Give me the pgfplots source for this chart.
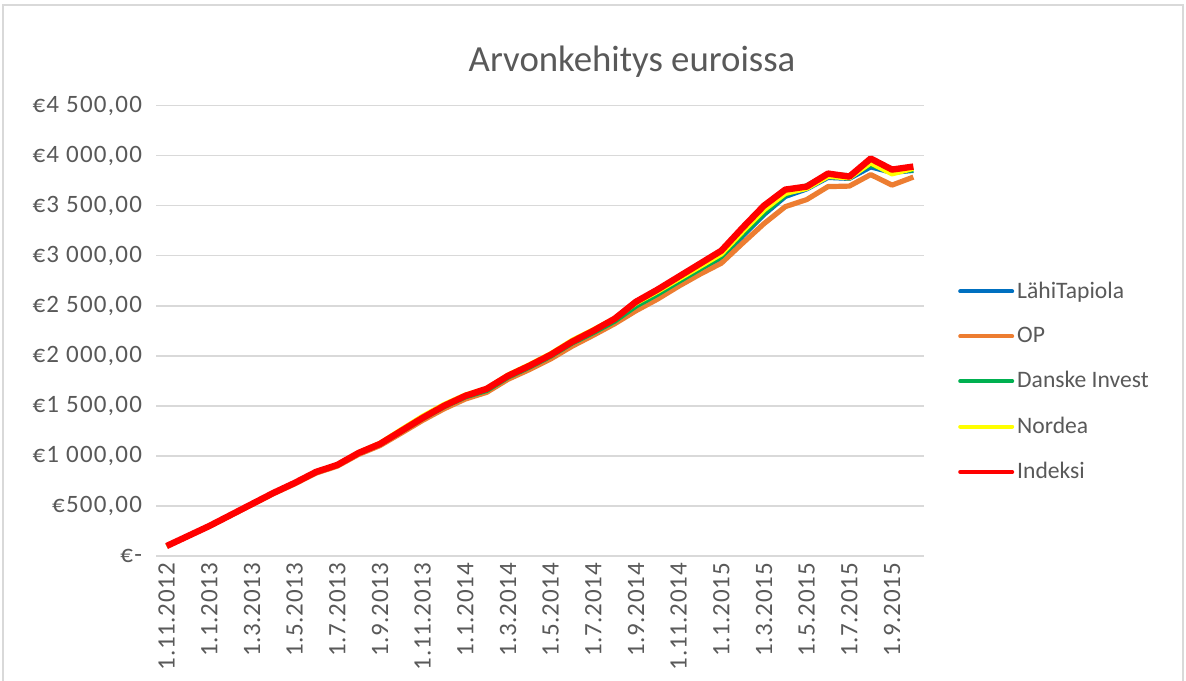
\documentclass[border=0pt]{standalone}
\usepackage{pgfplots}
\pgfplotsset{compat=1.18}
\usepackage{pgfplotstable}
\usepackage{fontspec}
\setmainfont{Carlito}
\definecolor{txt}{HTML}{595959}
\definecolor{gridc}{HTML}{D9D9D9}
\definecolor{cblue}{HTML}{0070C0}
\definecolor{corange}{HTML}{ED7D31}
\definecolor{cgreen}{HTML}{00B050}
\definecolor{cyellow}{HTML}{FFFF00}
\definecolor{cred}{HTML}{FF0000}
\pgfplotstableread{
x ix no di lt op
0 100 100 100 100 100
1 200 200 200 200 198
2 300 302 300 300 297
3 410 412 408 408 405
4 520 522 518 517 513
5 630 632 627 626 622
6 730 733 727 726 720
7 840 843 836 835 828
8 910 913 906 905 898
9 1030 1035 1025 1024 1015
10 1120 1128 1115 1113 1103
11 1250 1265 1243 1240 1228
12 1380 1398 1372 1370 1355
13 1500 1515 1490 1488 1470
14 1600 1610 1588 1585 1568
15 1670 1675 1652 1650 1635
16 1800 1810 1785 1782 1765
17 1900 1912 1885 1880 1862
18 2010 2022 1995 1990 1968
19 2140 2155 2125 2118 2095
20 2250 2262 2230 2225 2205
21 2370 2375 2345 2338 2320
22 2540 2525 2495 2480 2450
23 2660 2640 2612 2595 2565
24 2790 2765 2740 2725 2695
25 2920 2890 2865 2855 2815
26 3050 3015 2990 2975 2925
27 3280 3240 3210 3195 3125
28 3500 3455 3425 3410 3320
29 3660 3620 3605 3590 3490
30 3690 3670 3700 3665 3560
31 3820 3790 3815 3780 3690
32 3790 3775 3800 3770 3695
33 3970 3925 3905 3885 3810
34 3860 3815 3845 3830 3705
35 3890 3870 3855 3850 3785
}\data
\begin{document}
\begin{tikzpicture}
\useasboundingbox (0,0) rectangle (593pt,-340pt);
\draw[color=gridc, line width=0.75pt] (1.5pt,-2.5pt) rectangle (591.5pt,-345pt);
\node[text=txt, font=\fontsize{18.4}{22}\selectfont] at (316pt,-31pt) {Arvonkehitys euroissa};
\begin{axis}[
  at={(78pt,-278pt)}, anchor=south west,
  scale only axis, width=384pt, height=225.25pt,
  xmin=-0.5, xmax=35.5, ymin=0, ymax=4500,
  axis line style={draw=none},
  major tick length=0pt,
  ymajorgrids, grid style={color=gridc, line width=0.8pt},
  ytick={0,500,...,4500},
  yticklabels={€-, €500{,}00, €1 000{,}00, €1 500{,}00, €2 000{,}00, €2 500{,}00, €3 000{,}00, €3 500{,}00, €4 000{,}00, €4 500{,}00},
  xtick={0,2,...,34},
  xticklabels={1.11.2012,1.1.2013,1.3.2013,1.5.2013,1.7.2013,1.9.2013,1.11.2013,1.1.2014,1.3.2014,1.5.2014,1.7.2014,1.9.2014,1.11.2014,1.1.2015,1.3.2015,1.5.2015,1.7.2015,1.9.2015},
  tick label style={text=txt},
  xticklabel style={rotate=90, anchor=east, font=\fontsize{12.5}{14}\selectfont\addfontfeatures{LetterSpace=3}},
  yticklabel style={anchor=east, xshift=-3.5pt, font=\fontsize{12.5}{14}\selectfont\addfontfeatures{LetterSpace=5}},
  legend style={at={(1.044,0.387)}, anchor=west, draw=none, fill=none, inner sep=0pt,
    font=\fontsize{11.8}{14}\selectfont, text=txt, row sep=10pt,
    nodes={inner sep=1.5pt}},
  legend cell align=left,
  legend image code/.code={\draw[#1, line width=2pt, line cap=round] (0pt,0pt) -- (26pt,0pt);},
  line join=round,
]
\addplot[cblue, line width=2.4pt] table[x=x, y=lt] {\data};
\addlegendentry{LähiTapiola}
\addplot[corange, line width=2.6pt] table[x=x, y=op] {\data};
\addlegendentry{OP}
\addplot[cgreen, line width=2.4pt] table[x=x, y=di] {\data};
\addlegendentry{Danske Invest}
\addplot[cyellow, line width=2.4pt] table[x=x, y=no] {\data};
\addlegendentry{Nordea}
\addplot[cred, line width=3.2pt] table[x=x, y=ix] {\data};
\addlegendentry{Indeksi}
\end{axis}
\end{tikzpicture}
\end{document}
